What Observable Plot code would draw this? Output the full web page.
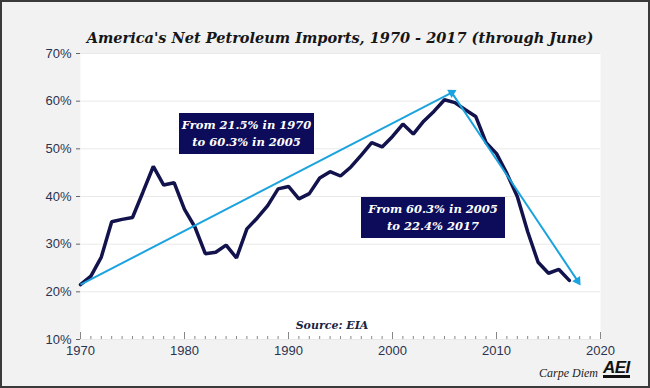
<!DOCTYPE html>
<html>
<head>
<meta charset="utf-8">
<script src="https://cdn.jsdelivr.net/npm/d3@7"></script>
<script src="https://cdn.jsdelivr.net/npm/@observablehq/plot@0.6"></script>
<style>
  html, body { margin: 0; padding: 0; background: #f2f2f2; }
  #wrap { position: relative; width: 650px; height: 388px; background: #f2f2f2; overflow: hidden; }
  #wrap svg { position: absolute; left: 0; top: 0; display: block; }
  #border { position: absolute; left: 0; top: 0; width: 650px; height: 388px; box-sizing: border-box; border: 2px solid #3a3a3a; pointer-events: none; }
  #title { position: absolute; left: 80px; width: 520px; top: 29px; text-align: center; font-family: "DejaVu Serif", serif; font-weight: bold; font-style: italic; font-size: 14.5px; color: #161616; white-space: nowrap; }
  .box { position: absolute; background: #0c0c5a; color: #fff; font-family: "DejaVu Serif", serif; font-weight: bold; font-style: italic; font-size: 11.5px; line-height: 16.5px; text-align: center; display: flex; flex-direction: column; justify-content: center; white-space: nowrap; }
  #source { position: absolute; left: 280px; width: 104px; top: 319px; text-align: center; font-family: "DejaVu Serif", serif; font-weight: bold; font-style: italic; font-size: 11px; color: #1b2440; white-space: nowrap; }
  #carpe { position: absolute; left: 520px; width: 78px; top: 366px; text-align: right; font-family: "Liberation Serif", serif; font-style: italic; font-size: 12px; color: #222; white-space: nowrap; }
  #aei { position: absolute; left: 603px; top: 360px; font-family: "Liberation Sans", Arial, sans-serif; font-weight: bold; font-style: italic; font-size: 17px; color: #111; letter-spacing: -0.5px; border-bottom: 3px solid #111; line-height: 15px; white-space: nowrap; }
</style>
</head>
<body>
<div id="wrap">
  <div id="title"></div>
  <div id="source"></div>
  <div id="carpe"></div>
  <div id="aei"></div>
  <div id="border"></div>
</div>
<script>
// ---- data ----
const years = [1970,1971,1972,1973,1974,1975,1976,1977,1978,1979,
               1980,1981,1982,1983,1984,1985,1986,1987,1988,1989,
               1990,1991,1992,1993,1994,1995,1996,1997,1998,1999,
               2000,2001,2002,2003,2004,2005,2006,2007,2008,2009,
               2010,2011,2012,2013,2014,2015,2016,2017];
const importShare = [21.5,23.3,27.3,34.7,35.2,35.6,40.9,46.3,42.4,42.9,
                     37.3,33.6,28.0,28.3,29.8,27.1,33.2,35.5,38.1,41.6,
                     42.1,39.5,40.6,43.9,45.2,44.3,46.2,48.7,51.3,50.4,
                     52.6,55.2,53.1,55.8,57.9,60.3,59.7,58.2,56.8,51.3,
                     49.0,44.8,40.0,32.6,26.2,23.9,24.7,22.4];
const arrowYears  = [1970, 2005.7, 2017.8];
const arrowValues = [21.5, 61.8, 22.3];
const yTicks = [10,20,30,40,50,60,70];
const xLabelYears = [1970,1980,1990,2000,2010,2020];
const minorYears = d3.range(1970, 2021);
const titleText = "America's Net Petroleum Imports, 1970 - 2017 (through June)";
const boxTexts = [["From 21.5% in 1970","to 60.3% in 2005"],["From 60.3% in 2005","to 22.4% 2017"]];
const sourceText = "Source: EIA";
const creditText = "Carpe Diem";
const logoText = "AEI";

// ---- build ----
const series = years.map((y,i) => ({year: y, value: importShare[i]}));
const arrowSegs = [
  {x1: arrowYears[0], y1: arrowValues[0], x2: arrowYears[1], y2: arrowValues[1]},
  {x1: arrowYears[1], y1: arrowValues[1], x2: arrowYears[2], y2: arrowValues[2]}
];
const navy = "#12124c";
const blue = "#1ba3df";

const chart = Plot.plot({
  width: 650, height: 388,
  marginTop: 53, marginBottom: 49, marginLeft: 80, marginRight: 50,
  x: {domain: [1970, 2020]},
  y: {domain: [10, 70]},
  style: {background: "transparent", fontFamily: "'Liberation Sans', Arial, sans-serif", fontSize: "13px", color: "#2b3350"},
  marks: [
    Plot.frame({fill: "white", stroke: null}),
    Plot.gridY(yTicks, {stroke: "#e9e9e9", strokeOpacity: 1}),
    Plot.tickX(minorYears, {x: d => d, stroke: "#888", insetTop: 283}),
    Plot.tickX(xLabelYears, {x: d => d, stroke: "#888", insetTop: 279}),
    Plot.axisY(yTicks, {tickFormat: d => d + "%", tickSize: 4, tickPadding: 5, stroke: "#666", label: null, fontSize: 13}),
    Plot.axisX(xLabelYears, {tickFormat: d => String(d), tickSize: 0, tickPadding: 6, label: null, fontSize: 13}),
    Plot.line(series, {x: "year", y: "value", stroke: navy, strokeWidth: 3.5, strokeLinejoin: "miter"}),
    Plot.link(arrowSegs, {x1: "x1", y1: "y1", x2: "x2", y2: "y2", stroke: blue, strokeWidth: 2}),
    Plot.dot([arrowSegs[0]], {x: "x2", y: "y2", symbol: "triangle2", r: 4.5, fill: blue, rotate: 62}),
    Plot.dot([arrowSegs[1]], {x: "x2", y: "y2", symbol: "triangle2", r: 4.5, fill: blue, rotate: 147})
  ]
});

const wrap = document.getElementById("wrap");
wrap.insertBefore(chart, wrap.firstChild);
document.getElementById("title").textContent = titleText;
document.getElementById("source").textContent = sourceText;
document.getElementById("carpe").textContent = creditText;
document.getElementById("aei").textContent = logoText;

const boxPos = [{left: 179, top: 113, width: 135, height: 41}, {left: 361, top: 197, width: 144, height: 41}];
boxTexts.forEach((lines, i) => {
  const d = document.createElement("div");
  d.className = "box";
  const p = boxPos[i];
  d.style.left = p.left + "px"; d.style.top = p.top + "px";
  d.style.width = p.width + "px"; d.style.height = p.height + "px";
  lines.forEach(t => { const s = document.createElement("div"); s.textContent = t; d.appendChild(s); });
  wrap.insertBefore(d, document.getElementById("title"));
});
</script>
</body>
</html>
